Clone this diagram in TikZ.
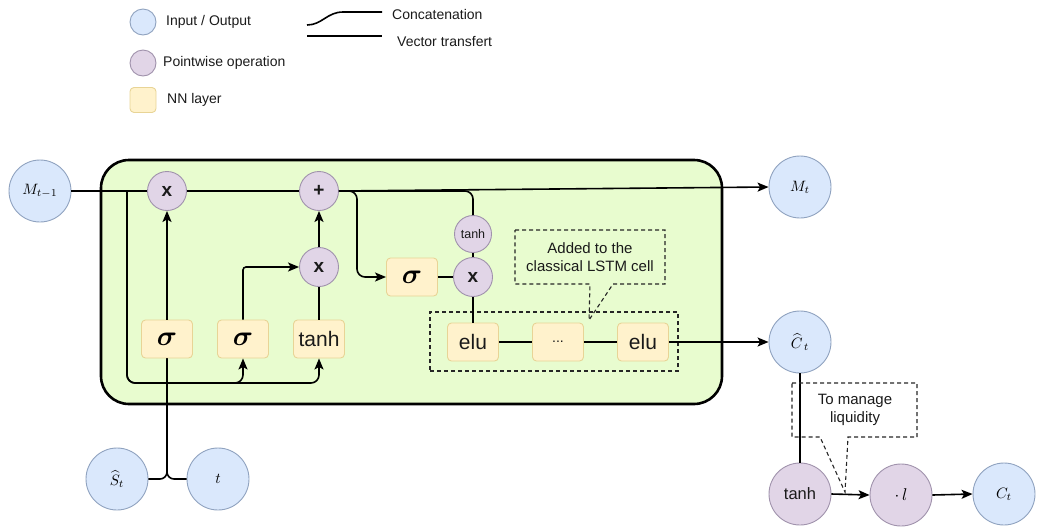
\documentclass[tikz,border=0pt]{standalone}
\usepackage{amsmath}
\usepackage{fontspec}
\setmainfont{Liberation Sans}
\usetikzlibrary{arrows.meta}
\definecolor{iofill}{HTML}{DAE8FC}
\definecolor{iodraw}{HTML}{8FA2BF}
\definecolor{pwfill}{HTML}{E1D5E7}
\definecolor{pwdraw}{HTML}{A092AC}
\definecolor{nnfill}{HTML}{FFF2CC}
\definecolor{nndraw}{HTML}{E8D496}
\definecolor{cellfill}{HTML}{E8FCCF}
\definecolor{txt}{HTML}{1A1A1A}
\newcommand{\mlab}[1]{\scalebox{1.5}{$#1$}}
\newcommand{\sig}{\scalebox{1.35}{$\boldsymbol{\sigma}$}}
\tikzset{
  io/.style={circle, fill=iofill, draw=iodraw, line width=0.9pt, minimum size=62pt, inner sep=0pt},
  pw/.style={circle, fill=pwfill, draw=pwdraw, line width=0.9pt, minimum size=39pt, inner sep=0pt},
  pwbig/.style={pw, minimum size=62pt},
  nn/.style={rectangle, rounded corners=4pt, fill=nnfill, draw=nndraw, line width=0.9pt, minimum width=51pt, minimum height=38pt, inner sep=0pt, font=\fontsize{21}{24}\selectfont},
  cellbox/.style={rectangle, rounded corners=28pt, fill=cellfill, draw=black, line width=2.6pt, minimum width=621pt, minimum height=244pt},
  wire/.style={line width=1.6pt, draw=black},
  arr/.style={wire, -{Stealth[length=11pt,width=9pt,inset=2.5pt]}},
  callout/.style={draw=black!85, line width=1.1pt, dash pattern=on 4pt off 3pt},
  lgtext/.style={anchor=west, inner sep=0pt, text=txt, font=\fontsize{14}{16}\selectfont},
  cotext/.style={anchor=center, align=center, inner sep=0pt, text=txt, font=\fontsize{15}{18}\selectfont},
  optext/.style={font=\bfseries\fontsize{19}{22}\selectfont, text=txt},
}
\begin{document}
\begin{tikzpicture}[x=1pt,y=-1pt]
\useasboundingbox (0,0) rectangle (1038,528);

% ---------- legend ----------
\node[io, minimum size=26pt] (lio) at (143,22) {};
\node[pw, minimum size=26pt] (lpw) at (143,63) {};
\node[nn, minimum width=26pt, minimum height=25pt] (lnn) at (143,100) {};
\node[lgtext] (tio) at (166,22) {Input / Output};
\node[lgtext] (tpw) at (163,63) {Pointwise operation};
\node[lgtext] (tnn) at (167,100) {NN layer};
\coordinate (ca) at (307,25);
\coordinate (cb) at (382,12);
\coordinate (va) at (307,36);
\coordinate (vb) at (382,36);
\draw[wire] (ca) .. controls (322,25) and (327,12) .. (343,12) -- (cb);
\draw[wire] (va) -- (vb);
\node[lgtext] (tcat) at (392,14) {Concatenation};
\node[lgtext] (tvec) at (397,41) {Vector transfert};

% ---------- cell ----------
\node[cellbox] (cell) at (411.5,282) {};

\node[io] (Mp) at (40,191) {\mlab{M_{t-1}}};
\node[io] (Mt) at (800,187) {\mlab{M_t}};
\node[io] (Ch) at (800,342) {\mlab{\widehat{C}_{\,t}}};
\node[io] (S) at (117,479) {\mlab{\widehat{S}_t}};
\node[io] (t) at (218,479) {\mlab{t}};
\node[io] (Ct) at (1004,494) {\mlab{C_t}};

\node[pw, optext] (x1) at (167,191) {x};
\node[pw, optext] (plus) at (319,191) {+};
\node[pw, optext] (x2) at (319,267) {x};
\node[pw, minimum size=37pt, font=\fontsize{12.5}{14}\selectfont, text=txt] (th) at (473,234) {tanh};
\node[pw, optext] (x3) at (473,277) {x};
\node[pwbig, font=\fontsize{16.5}{18}\selectfont, text=txt] (tb) at (800,494) {tanh};
\node[pwbig] (dl) at (901,495) {\scalebox{1.7}{$\cdot\,l$}};

\node[nn] (s1) at (167,339) {\sig};
\node[nn] (s2) at (243,339) {\sig};
\node[nn, text=txt] (tbox) at (319,339) {tanh};
\node[nn] (s3) at (412,277) {\sig};
\node[nn, text=txt] (e1) at (473,342) {elu};
\node[nn, font=\fontsize{14}{16}\selectfont, text=txt] (dots) at (558,342) {...};
\node[nn, text=txt] (e2) at (643,342) {elu};

% dashed group box
\node[callout, minimum width=248pt, minimum height=59pt, inner sep=0pt] (grp) at (554,341.5) {};

% ---------- wires ----------
\draw[wire] (Mp.east) -- (x1.west);
\draw[wire] (x1.east) -- (plus.west);
\draw[arr] (plus.east) -- (Mt.west);

\coordinate (j1) at (127,191);
\coordinate (jb) at (127,383);
\draw[arr, rounded corners=8pt] (j1) -- (jb) -- (243,383) -- (s2.south);
\draw[arr, rounded corners=8pt] (j1) -- (jb) -- (319,383) -- (tbox.south);

\draw[wire, rounded corners=7pt] (S.east) -| (s1.south);
\draw[wire, rounded corners=7pt] (t.west) -| (s1.south);
\draw[arr] (s1.north) -- (x1.south);

\draw[arr, rounded corners=3pt] (s2.north) |- (x2.west);
\draw[wire] (tbox.north) -- (x2.south);
\draw[arr] (x2.north) -- (plus.south);

\draw[arr, rounded corners=8pt] (plus.east) -- (357,191) -- (357,277) -- (s3.west);
\draw[wire, rounded corners=8pt] (plus.east) -- (473,191) -- (th.north);
\draw[wire] (s3.east) -- (x3.west);
\draw[wire] (th.south) -- (x3.north);
\draw[wire] (x3.south) -- (e1.north);
\draw[wire] (e1.east) -- (dots.west);
\draw[wire] (dots.east) -- (e2.west);
\draw[arr] (e2.east) -- (Ch.west);

\draw[wire] (Ch.south) -- (tb.north);
\draw[arr] (tb.east) -- (dl.west);
\draw[arr] (dl.east) -- (Ct.west);

% ---------- callouts ----------
\node[cotext] (added) at (590,257) {Added to the\\classical LSTM cell};
\draw[callout] (515,230) -- (665,230) -- (665,284) -- (613,284) -- (589,320) -- (590,284) -- (515,284) -- cycle;

\node[cotext] (liq) at (855,410) {To manage\\liquidity};
\draw[callout] (792,383) -- (917,383) -- (917,437) -- (848,437) -- (845,492) -- (820,437) -- (792,437) -- cycle;
\end{tikzpicture}
\end{document}
